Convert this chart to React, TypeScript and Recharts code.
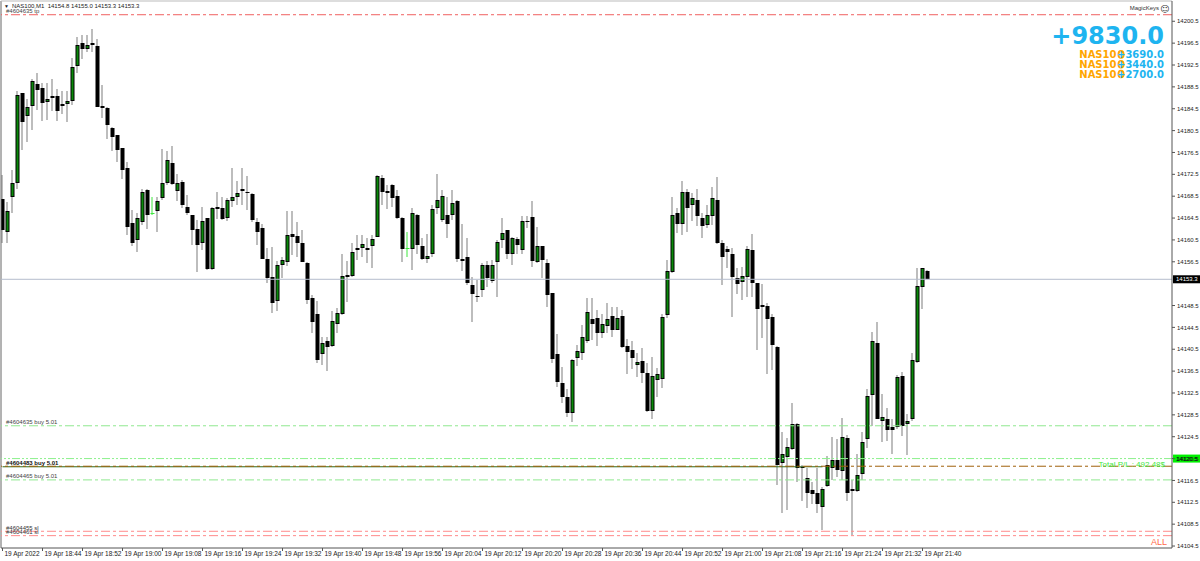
import React from "react";
import { ComposedChart, Bar, XAxis, YAxis, ReferenceLine } from "recharts";

document.body.style.margin = "0";

const SMALL = "Arial, 'Liberation Sans', sans-serif";
const BIG = "'DejaVu Sans', Verdana, sans-serif";

// NAS100 M1, 19 Apr 2022 18:36 .. 21:41
const open = [
  14167.9, 14161.9, 14168.4, 14170.9, 14187.3, 14183.2, 14185.0, 14189.0, 14188.3, 14185.8,
  14186.5, 14186.8, 14185.0, 14185.4, 14186.0, 14192.4, 14196.6, 14195.4, 14196.5, 14196.0,
  14184.7, 14184.6, 14181.0, 14179.7, 14177.4, 14173.7, 14163.6, 14160.4, 14163.8, 14169.6,
  14165.5, 14165.8, 14168.1, 14170.9, 14174.6, 14169.5, 14171.1, 14166.6, 14165.1, 14162.5,
  14159.9, 14164.5, 14155.1, 14166.6, 14166.3, 14164.5, 14167.6, 14168.4, 14169.9, 14169.3,
  14168.9, 14163.8, 14162.6, 14157.1, 14153.8, 14149.3, 14156.0, 14156.5, 14161.5, 14161.3,
  14159.9, 14156.3, 14149.8, 14146.9, 14139.6, 14142.0, 14141.1, 14145.2, 14146.9, 14153.7,
  14153.9, 14158.6, 14159.1, 14159.0, 14159.3, 14161.1, 14171.8, 14169.4, 14170.5, 14168.5,
  14164.6, 14159.1, 14158.8, 14165.1, 14159.4, 14157.1, 14158.0, 14166.3, 14164.1, 14165.1,
  14165.1, 14167.7, 14157.0, 14157.4, 14152.2, 14150.3, 14151.3, 14155.9, 14153.0, 14156.4,
  14160.5, 14162.3, 14157.9, 14160.6, 14158.6, 14164.0, 14164.7, 14156.5, 14159.3, 14156.3,
  14150.7, 14139.7, 14134.4, 14131.8, 14128.8, 14138.9, 14139.9, 14142.1, 14146.0, 14146.2,
  14143.5, 14144.8, 14146.6, 14144.1, 14146.6, 14141.1, 14140.3, 14137.6, 14138.4, 14136.2,
  14129.2, 14134.9, 14135.0, 14146.8, 14154.6, 14165.4, 14163.4, 14169.3, 14166.9, 14167.8,
  14164.6, 14163.3, 14164.9, 14167.8, 14160.0, 14158.8, 14157.9, 14153.6, 14152.8, 14153.8,
  14158.6, 14152.6, 14148.3, 14148.4, 14146.4, 14141.0, 14119.6, 14120.8, 14122.2, 14126.9,
  14119.0, 14116.9, 14114.7, 14114.2, 14111.7, 14115.5, 14118.7, 14120.2, 14118.2, 14124.3,
  14114.6, 14114.6, 14117.7, 14124.0, 14132.2, 14141.7, 14127.4, 14127.8, 14126.2, 14126.2,
  14135.6, 14126.9, 14127.7, 14138.1, 14151.9, 14154.8,
];
const high = [
  14172.4, 14167.5, 14173.3, 14187.7, 14187.4, 14186.3, 14189.9, 14191.0, 14189.2, 14189.2,
  14189.9, 14188.2, 14187.7, 14187.8, 14193.8, 14197.6, 14198.0, 14198.0, 14199.0, 14197.3,
  14188.8, 14184.8, 14181.2, 14179.7, 14177.4, 14174.8, 14166.0, 14165.5, 14169.8, 14169.8,
  14168.4, 14168.4, 14177.1, 14176.8, 14177.6, 14172.5, 14171.5, 14168.7, 14165.1, 14164.1,
  14166.6, 14164.6, 14166.6, 14169.3, 14168.3, 14168.1, 14173.6, 14171.2, 14173.6, 14172.2,
  14169.0, 14164.6, 14163.5, 14159.1, 14159.2, 14156.7, 14157.4, 14165.8, 14165.8, 14163.8,
  14162.3, 14156.4, 14150.4, 14149.4, 14142.8, 14142.8, 14147.5, 14148.1, 14157.9, 14156.6,
  14159.9, 14161.4, 14161.4, 14160.8, 14161.4, 14172.4, 14172.4, 14170.5, 14170.7, 14169.6,
  14164.7, 14162.0, 14166.3, 14165.2, 14160.8, 14161.5, 14166.9, 14172.6, 14169.6, 14168.4,
  14169.6, 14167.8, 14163.4, 14160.8, 14153.8, 14153.2, 14156.3, 14156.7, 14156.8, 14160.5,
  14164.5, 14162.4, 14161.1, 14161.0, 14164.9, 14164.9, 14167.6, 14162.9, 14159.4, 14157.1,
  14150.8, 14143.3, 14137.3, 14133.2, 14138.8, 14141.3, 14144.9, 14149.8, 14149.8, 14147.7,
  14146.9, 14148.9, 14148.2, 14148.2, 14147.7, 14142.3, 14142.0, 14139.9, 14140.8, 14137.9,
  14139.0, 14137.0, 14146.9, 14156.8, 14168.4, 14166.3, 14171.3, 14169.9, 14169.1, 14169.9,
  14165.5, 14166.9, 14170.2, 14172.0, 14160.5, 14159.3, 14159.1, 14155.3, 14155.6, 14159.3,
  14161.5, 14152.7, 14152.4, 14148.9, 14146.9, 14141.1, 14125.4, 14124.2, 14130.7, 14127.0,
  14119.3, 14118.7, 14116.2, 14118.8, 14115.3, 14121.0, 14124.5, 14124.0, 14128.0, 14124.8,
  14116.6, 14121.4, 14125.4, 14133.2, 14143.7, 14145.4, 14132.3, 14129.7, 14127.8, 14135.8,
  14136.4, 14128.6, 14139.9, 14155.3, 14155.4, 14155.0,
];
const low = [
  14160.0, 14160.0, 14165.4, 14169.9, 14177.0, 14178.4, 14180.6, 14184.3, 14182.3, 14182.4,
  14184.1, 14182.3, 14183.5, 14182.0, 14185.2, 14191.0, 14193.6, 14194.8, 14194.8, 14184.8,
  14182.8, 14179.0, 14176.8, 14174.8, 14171.6, 14161.4, 14159.4, 14158.3, 14163.2, 14162.5,
  14165.1, 14162.0, 14167.8, 14170.5, 14170.5, 14167.7, 14166.3, 14165.1, 14159.6, 14154.6,
  14158.7, 14155.0, 14155.0, 14164.3, 14164.2, 14164.0, 14166.6, 14166.9, 14166.9, 14166.0,
  14163.8, 14159.6, 14157.0, 14152.6, 14147.1, 14147.5, 14153.5, 14155.7, 14157.7, 14157.3,
  14156.4, 14148.8, 14143.4, 14138.0, 14137.7, 14136.5, 14141.0, 14143.5, 14146.8, 14149.1,
  14153.8, 14156.8, 14157.4, 14156.3, 14155.3, 14161.0, 14166.9, 14166.1, 14166.6, 14164.4,
  14156.5, 14157.4, 14155.0, 14158.0, 14156.8, 14156.3, 14157.4, 14165.2, 14163.8, 14160.8,
  14164.1, 14156.5, 14154.9, 14152.2, 14145.5, 14149.2, 14150.1, 14151.9, 14152.6, 14150.1,
  14159.1, 14157.0, 14155.9, 14157.9, 14158.0, 14162.6, 14155.6, 14156.2, 14153.6, 14148.3,
  14137.9, 14133.6, 14130.7, 14128.1, 14127.2, 14137.4, 14138.5, 14141.7, 14142.2, 14141.1,
  14142.5, 14143.4, 14142.8, 14144.0, 14140.8, 14135.9, 14136.9, 14135.5, 14134.3, 14129.1,
  14127.7, 14131.8, 14133.5, 14146.2, 14154.4, 14161.8, 14161.4, 14162.0, 14164.0, 14163.0,
  14160.8, 14162.6, 14163.2, 14159.7, 14152.2, 14155.3, 14146.4, 14150.6, 14149.5, 14150.1,
  14150.1, 14140.3, 14142.5, 14135.9, 14136.7, 14115.6, 14110.5, 14111.1, 14122.0, 14116.2,
  14112.8, 14111.5, 14112.1, 14110.5, 14107.4, 14115.3, 14116.6, 14117.2, 14116.6, 14112.7,
  14106.5, 14114.4, 14116.6, 14122.5, 14126.4, 14127.7, 14123.6, 14123.8, 14121.4, 14126.0,
  14124.6, 14121.1, 14127.4, 14137.9, 14147.9, 14153.3,
];
const close = [
  14162.3, 14165.8, 14171.0, 14187.0, 14182.0, 14184.8, 14189.5, 14187.9, 14185.5, 14186.3,
  14186.9, 14184.1, 14185.3, 14185.9, 14192.1, 14196.2, 14195.4, 14196.2, 14196.2, 14184.9,
  14185.0, 14181.5, 14179.3, 14177.0, 14173.3, 14162.9, 14160.0, 14164.5, 14169.3, 14165.1,
  14165.5, 14167.6, 14170.9, 14175.1, 14170.7, 14170.9, 14166.8, 14165.4, 14162.3, 14159.6,
  14164.0, 14155.1, 14166.3, 14166.1, 14164.3, 14167.8, 14168.4, 14169.1, 14169.5, 14169.0,
  14164.1, 14162.0, 14157.1, 14153.6, 14149.0, 14155.9, 14156.8, 14161.4, 14161.1, 14160.0,
  14156.5, 14149.5, 14145.5, 14138.5, 14141.7, 14141.0, 14145.7, 14147.1, 14153.9, 14154.1,
  14158.3, 14159.0, 14159.7, 14158.7, 14160.7, 14172.2, 14169.3, 14169.1, 14168.1, 14164.5,
  14158.8, 14159.1, 14165.4, 14159.6, 14157.0, 14157.5, 14166.1, 14167.8, 14168.5, 14163.4,
  14167.3, 14157.0, 14156.7, 14152.7, 14150.6, 14150.0, 14156.0, 14153.5, 14156.0, 14160.1,
  14161.7, 14158.0, 14160.8, 14159.6, 14164.0, 14163.7, 14156.6, 14159.3, 14156.8, 14150.4,
  14138.8, 14134.5, 14131.7, 14128.9, 14138.6, 14140.2, 14142.7, 14147.4, 14145.1, 14143.5,
  14145.2, 14146.0, 14144.0, 14146.3, 14141.0, 14140.0, 14138.9, 14138.2, 14136.1, 14129.2,
  14135.6, 14136.0, 14146.4, 14154.9, 14165.1, 14163.5, 14169.2, 14166.3, 14168.1, 14164.9,
  14163.0, 14165.1, 14168.1, 14159.9, 14157.4, 14158.2, 14153.8, 14152.4, 14153.9, 14158.8,
  14152.7, 14147.8, 14148.6, 14146.0, 14141.3, 14119.3, 14121.3, 14122.7, 14126.9, 14118.7,
  14118.7, 14114.2, 14114.0, 14112.2, 14115.0, 14119.3, 14120.3, 14118.5, 14124.5, 14114.2,
  14115.0, 14117.5, 14123.5, 14131.9, 14142.0, 14127.8, 14128.1, 14125.7, 14125.7, 14135.5,
  14126.4, 14127.4, 14138.6, 14152.1, 14155.3, 14153.3,
];

const tickPositions = [0, 8, 16, 24, 32, 40, 48, 56, 64, 72, 80, 88, 96, 104, 112, 120, 128, 136, 144, 152, 160, 168, 176, 184];
const tickLabels = [
  "19 Apr 2022", "19 Apr 18:44", "19 Apr 18:52", "19 Apr 19:00", "19 Apr 19:08", "19 Apr 19:16",
  "19 Apr 19:24", "19 Apr 19:32", "19 Apr 19:40", "19 Apr 19:48", "19 Apr 19:56", "19 Apr 20:04",
  "19 Apr 20:12", "19 Apr 20:20", "19 Apr 20:28", "19 Apr 20:36", "19 Apr 20:44", "19 Apr 20:52",
  "19 Apr 21:00", "19 Apr 21:08", "19 Apr 21:16", "19 Apr 21:24", "19 Apr 21:32", "19 Apr 21:40",
];
const priceTicks = [
  14200.5, 14196.5, 14192.5, 14188.5, 14184.5, 14180.5, 14176.5, 14172.5, 14168.5, 14164.5,
  14160.5, 14156.5, 14148.5, 14144.5, 14140.5, 14136.5, 14132.5, 14128.5, 14124.5, 14120.5,
  14116.5, 14112.5, 14108.5, 14104.5,
];

// order levels
const tpPrice = 14201.7;
const buyPrices = [14126.5, 14119.1, 14116.6];
const buyLabels = ["#4604635 buy 5.01", "#4604483 buy 5.01", "#4604465 buy 5.01"];
const slPrices = [14107.2, 14106.4];
const slLabels = ["#4604455 sl", "#4604461 sl"];
const plLevel = 14120.5;
const lastPrice = 14153.3;
const totalPL = 492.48;
const totalProfit = 9830.0;
const symbolProfits = [3690.0, 3440.0, 2700.0];
const lastBar = ["14154.8", "14155.0", "14153.3", "14153.3"];

const rows = open.map((o, i) => ({
  i,
  open: o,
  high: high[i],
  low: low[i],
  close: close[i],
  range: [low[i], high[i]],
}));

function Candle(props: any) {
  const { x, y, width, height, payload } = props;
  if (x == null || !payload) return null;
  const { open: o, close: c, high: h, low: l } = payload;
  const top = Math.min(y, y + height);
  const hh = Math.abs(height);
  const k = h > l ? hh / (h - l) : 0;
  const py = (v: number) => top + (h - v) * k;
  const cx = x + width / 2;
  const wickTop = Math.round(top);
  const wickH = Math.max(1, Math.round(top + hh) - wickTop);
  if (o === c) {
    const yy = Math.round(py(o));
    return (
      <g>
        <rect x={cx - 0.5} y={wickTop} width={1} height={wickH} fill="#3ee83e" />
        <rect x={cx - 1.5} y={yy} width={4} height={1} fill="#3ee83e" />
      </g>
    );
  }
  const bTop = Math.round(Math.min(py(o), py(c)));
  const bBot = Math.max(bTop + 1, Math.round(Math.max(py(o), py(c))));
  const bull = c > o;
  return (
    <g>
      <rect x={cx - 0.5} y={wickTop} width={1} height={wickH} fill="#7c7c7c" />
      <rect x={cx - 1.5} y={bTop} width={4} height={bBot - bTop} fill="#000" />
      {bull && bBot - bTop > 2 && (
        <rect x={cx - 0.5} y={bTop + 1} width={2} height={bBot - bTop - 2} fill="#0a8a0a" />
      )}
    </g>
  );
}

function XTick(props: any) {
  const { x, y, payload } = props;
  const idx = tickPositions.indexOf(payload.value);
  return (
    <text x={x + 2} y={y + 3} fontSize={6.5} fill="#222" fontFamily={SMALL}>
      {tickLabels[idx]}
    </text>
  );
}

const leftLabel = (text: string, color: string) => (p: any) => {
  const vb = p.viewBox || { x: 0, y: 0 };
  return (
    <text x={vb.x + 5} y={vb.y - 1.5} fontSize={6} fill={color} fontFamily={SMALL}>
      {text}
    </text>
  );
};

const axisBox = (text: string, bg: string, fg: string) => (p: any) => {
  const vb = p.viewBox || { x: 0, y: 0, width: 0 };
  const ax = vb.x + vb.width;
  return (
    <g>
      <rect x={ax + 1} y={vb.y - 4} width={27} height={8} fill={bg} />
      <text x={ax + 4} y={vb.y + 2.2} fontSize={6} fill={fg} fontFamily={SMALL}>
        {text}
      </text>
    </g>
  );
};

const buyWithPL = (p: any) => {
  const vb = p.viewBox || { x: 0, y: 0, width: 0 };
  return (
    <g>
      <text x={vb.x + 5} y={vb.y - 1.5} fontSize={6} fill="#111" fontFamily={SMALL} fontWeight="bold">
        {buyLabels[1]}
      </text>
      <text x={vb.x + vb.width - 7} y={vb.y + 1} fontSize={8} fill="#3ee83e" textAnchor="end" fontFamily={SMALL}>
        {`Total P/L : ${totalPL.toFixed(2)}$`}
      </text>
    </g>
  );
};

const slWithAll = (p: any) => {
  const vb = p.viewBox || { x: 0, y: 0, width: 0 };
  return (
    <g>
      <text x={vb.x + 5} y={vb.y - 1.5} fontSize={6} fill="#333" fontFamily={SMALL}>
        {slLabels[1]}
      </text>
      <text x={vb.x + vb.width - 5} y={vb.y + 9.5} fontSize={9} fill="#ff6a4a" textAnchor="end" fontFamily={SMALL}>
        ALL
      </text>
    </g>
  );
};

export default function App() {
  return (
    <div style={{ position: "relative", width: 1200, height: 561, background: "#fff" }}>
      <ComposedChart width={1200} height={561} data={rows} margin={{ top: 1, right: 0, bottom: 0, left: 1 }}>
        <XAxis
          dataKey="i"
          type="number"
          domain={[-0.3, 233.9]}
          allowDataOverflow
          ticks={tickPositions}
          interval={0}
          tick={(p: any) => <XTick {...p} />}
          tickSize={3}
          height={13}
          axisLine={{ stroke: "#555" }}
          tickLine={{ stroke: "#555" }}
        />
        <YAxis
          orientation="right"
          type="number"
          domain={[14104.14, 14204.21]}
          allowDataOverflow
          ticks={priceTicks}
          interval={0}
          width={28}
          tickSize={3}
          tickMargin={2}
          axisLine={{ stroke: "#555" }}
          tickLine={{ stroke: "#555" }}
          tick={{ fontSize: 6, fill: "#222", fontFamily: SMALL }}
        />
        <ReferenceLine x={-0.3} stroke="#666" />
        <ReferenceLine y={14204.21} stroke="#bbb" />
        <ReferenceLine y={tpPrice} stroke="#f06060" strokeDasharray="9 3 3 3" label={leftLabel("#4604635 tp", "#444")} />
        <ReferenceLine y={buyPrices[0]} stroke="#8fe88f" strokeDasharray="9 3 3 3" label={leftLabel(buyLabels[0], "#444")} />
        <ReferenceLine y={plLevel} stroke="#8cf08c" strokeDasharray="8 2 2 2 2 2" label={axisBox(plLevel.toFixed(1), "#00f000", "#000")} />
        <ReferenceLine segment={[{ x: 0, y: buyPrices[1] - 0.1 }, { x: 164, y: buyPrices[1] - 0.1 }]} stroke="#2e6b1a" />
        <ReferenceLine y={buyPrices[1]} stroke="#a0600a" strokeDasharray="9 3 3 3" label={buyWithPL} />
        <ReferenceLine y={buyPrices[2]} stroke="#8fe88f" strokeDasharray="9 3 3 3" label={leftLabel(buyLabels[2], "#444")} />
        <ReferenceLine y={slPrices[0]} stroke="#ff8a8a" strokeDasharray="9 3 3 3" label={leftLabel(slLabels[0], "#333")} />
        <ReferenceLine y={slPrices[1]} stroke="#ff8a8a" strokeDasharray="9 3 3 3" label={slWithAll} />
        <ReferenceLine y={lastPrice} stroke="#b4bccc" label={axisBox(lastPrice.toFixed(1), "#000", "#fff")} />
        <Bar dataKey="range" barSize={4} shape={(p: any) => <Candle {...p} />} isAnimationActive={false} />
      </ComposedChart>
      <svg width={1200} height={561} style={{ position: "absolute", left: 0, top: 0, pointerEvents: "none" }}>
        <text x={4} y={8} fontSize={5} fill="#222" fontFamily={SMALL}>▼</text>
        <text x={12} y={8} fontSize={6} fill="#222" fontFamily={SMALL}>
          {`NAS100,M1\u00a0\u00a0${lastBar.join(" ")}`}
        </text>
        <text x={1159} y={10} fontSize={6} fill="#333" textAnchor="end" fontFamily={SMALL}>MagicKeys</text>
        <text x={1160} y={11.5} fontSize={9} fill="#333" fontFamily={BIG}>☺</text>
        <text x={1164} y={44} fontSize={24} fontWeight="bold" fill="#1eb4f0" textAnchor="end" fontFamily={BIG}>
          {`+${totalProfit.toFixed(1)}`}
        </text>
        {symbolProfits.map((v, k) => (
          <g key={k}>
            <text x={1116.5} y={58 + k * 9.8} fontSize={10} fontWeight="bold" fill="#ffa500" textAnchor="end" fontFamily={BIG}>
              NAS10
            </text>
            <ellipse cx={1121} cy={54.4 + k * 9.8} rx={2.6} ry={3.4} fill="none" stroke="#ffa500" strokeWidth={1.8} />
            <text x={1164} y={58 + k * 9.8} fontSize={10} fontWeight="bold" fill="#1eb4f0" textAnchor="end" fontFamily={BIG}>
              {`+${v.toFixed(1)}`}
            </text>
          </g>
        ))}
      </svg>
    </div>
  );
}
